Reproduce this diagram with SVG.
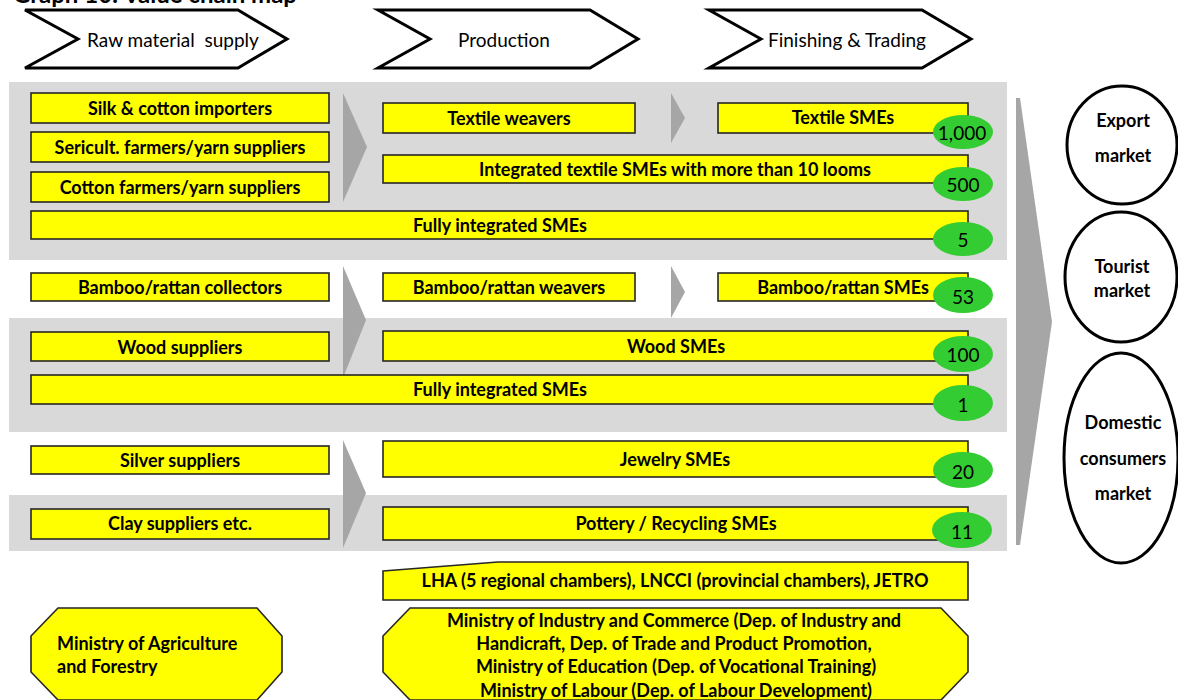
<svg xmlns="http://www.w3.org/2000/svg" width="1178" height="700" viewBox="0 0 1178 700">
<style>
text{font-family:Lato,"Liberation Sans",sans-serif;fill:#000}
.b{font-weight:bold;font-size:18px;text-anchor:middle;dominant-baseline:central}
.l{font-weight:bold;font-size:18px;dominant-baseline:central}
.h{font-size:19px;text-anchor:middle;dominant-baseline:central}
.n{font-size:19px;text-anchor:middle;dominant-baseline:central}
.y{fill:#FFFF00;stroke:#262626;stroke-width:1.6}
.g{fill:#33CC33}
.band{fill:#D9D9D9}
.arr{fill:#A6A6A6}
.chev{fill:#fff;stroke:#000;stroke-width:3;stroke-linejoin:miter}
.mk{fill:#fff;stroke:#000;stroke-width:3}
.m{font-weight:bold;font-size:18px;text-anchor:middle;dominant-baseline:central}
</style>
<text x="13" y="3" style="font-weight:bold;font-size:24px">Graph 10: Value chain map</text>
<g id="bands">
<rect class="band" x="9" y="82" width="998" height="178"/>
<rect class="band" x="9" y="318" width="998" height="114"/>
<rect class="band" x="9" y="495" width="998" height="56"/>
</g>
<g id="headers">
<g id="h-raw"><polygon class="chev" points="25,10 238,10 287,39 238,68 25,68 78,39"/><text class="h" x="173" y="39" xml:space="preserve">Raw material  supply</text></g>
<g id="h-prod"><polygon class="chev" points="378,10 590,10 638,39 590,68 378,68 430,39"/><text class="h" x="504" y="39">Production</text></g>
<g id="h-fin"><polygon class="chev" points="709,10 922,10 971,39 922,68 709,68 761,39"/><text class="h" x="847" y="39">Finishing &amp; Trading</text></g>
</g>
<g id="connectors">
<polygon class="arr" points="343,93 367,147 343,202"/>
<polygon class="arr" points="671,93 685,118 671,143"/>
<polygon class="arr" points="343,266 366,320 343,378"/>
<polygon class="arr" points="671,266 685,292 671,318"/>
<polygon class="arr" points="343,440 366,493 343,548"/>
<polygon class="arr" points="1016,98 1020,98 1052,322 1020,545 1016,545"/>
</g>
<g id="n-silk"><rect class="y" x="31" y="93" width="298" height="30"/><text class="b" x="180" y="108">Silk &amp; cotton importers</text></g>
<g id="n-seri"><rect class="y" x="31" y="132" width="298" height="30"/><text class="b" x="180" y="147">Sericult. farmers/yarn suppliers</text></g>
<g id="n-cotton"><rect class="y" x="31" y="172" width="298" height="30"/><text class="b" x="180" y="187">Cotton farmers/yarn suppliers</text></g>
<g id="n-textile-weavers"><rect class="y" x="383" y="103" width="252" height="30"/><text class="b" x="509" y="118">Textile weavers</text></g>
<g id="n-textile-smes"><rect class="y" x="718" y="103" width="250" height="30"/><text class="b" x="843" y="117">Textile SMEs</text><ellipse class="g" cx="963" cy="132" rx="30" ry="17"/><text class="n" x="962" y="132">1,000</text></g>
<g id="n-integrated-textile"><rect class="y" x="383" y="155" width="585" height="28"/><text class="b" x="675" y="169">Integrated textile SMEs with more than 10 looms</text><ellipse class="g" cx="963" cy="184" rx="30" ry="17"/><text class="n" x="963" y="184">500</text></g>
<g id="n-fully-textile"><rect class="y" x="31" y="211" width="937" height="28"/><text class="b" x="500" y="225">Fully integrated SMEs</text><ellipse class="g" cx="963" cy="239" rx="30" ry="17"/><text class="n" x="963" y="239">5</text></g>
<g id="n-bamboo-coll"><rect class="y" x="31" y="273" width="298" height="28"/><text class="b" x="180" y="287">Bamboo/rattan collectors</text></g>
<g id="n-bamboo-weav"><rect class="y" x="383" y="273" width="252" height="28"/><text class="b" x="509" y="287">Bamboo/rattan weavers</text></g>
<g id="n-bamboo-smes"><rect class="y" x="718" y="273" width="250" height="28"/><text class="b" x="843" y="287">Bamboo/rattan SMEs</text><ellipse class="g" cx="963" cy="295" rx="30" ry="18"/><text class="n" x="963" y="296">53</text></g>
<g id="n-wood-sup"><rect class="y" x="31" y="332" width="298" height="29"/><text class="b" x="180" y="347">Wood suppliers</text></g>
<g id="n-wood-smes"><rect class="y" x="383" y="331" width="585" height="30"/><text class="b" x="676" y="346">Wood SMEs</text><ellipse class="g" cx="963" cy="354" rx="30" ry="18"/><text class="n" x="963" y="354">100</text></g>
<g id="n-fully-wood"><rect class="y" x="31" y="375" width="937" height="29"/><text class="b" x="500" y="389">Fully integrated SMEs</text><ellipse class="g" cx="963" cy="403" rx="30" ry="18"/><text class="n" x="963" y="404">1</text></g>
<g id="n-silver"><rect class="y" x="31" y="446" width="298" height="28"/><text class="b" x="180" y="460">Silver suppliers</text></g>
<g id="n-jewelry"><rect class="y" x="383" y="441" width="585" height="36"/><text class="b" x="675" y="459">Jewelry SMEs</text><ellipse class="g" cx="963" cy="470" rx="30" ry="18"/><text class="n" x="963" y="471">20</text></g>
<g id="n-clay"><rect class="y" x="31" y="509" width="298" height="30"/><text class="b" x="180" y="523">Clay suppliers etc.</text></g>
<g id="n-pottery"><rect class="y" x="383" y="507" width="585" height="33"/><text class="b" x="676" y="523">Pottery / Recycling SMEs</text><ellipse class="g" cx="962" cy="530" rx="30" ry="18"/><text class="n" x="962" y="531">11</text></g>
<g id="n-export"><ellipse class="mk" cx="1122" cy="145" rx="55" ry="59"/><text class="m" x="1123" y="120">Export</text><text class="m" x="1123" y="155">market</text></g>
<g id="n-tourist"><ellipse class="mk" cx="1121" cy="277" rx="56" ry="65"/><text class="m" x="1122" y="266">Tourist</text><text class="m" x="1122" y="290">market</text></g>
<g id="n-domestic"><ellipse class="mk" cx="1121" cy="458" rx="57" ry="105"/><text class="m" x="1123" y="422">Domestic</text><text class="m" x="1123" y="458">consumers</text><text class="m" x="1123" y="493">market</text></g>
<g id="n-lha"><polygon class="y" points="383,571 498,562 968,562 968,600 383,600"/><text class="b" x="675" y="580">LHA (5 regional chambers), LNCCI (provincial chambers), JETRO</text></g>
<g id="n-maf"><polygon class="y" points="58,608 257,608 282,636 282,672 257,700 58,700 31,672 31,636"/><text class="l" x="57" y="643">Ministry of Agriculture</text><text class="l" x="57" y="666">and Forestry</text></g>
<g id="n-mic"><polygon class="y" points="410,608 941,608 968,636 968,672 941,700 410,700 383,672 383,636"/><text class="b" x="674" y="620">Ministry of Industry and Commerce (Dep. of Industry and</text><text class="b" x="674" y="643">Handicraft, Dep. of Trade and Product Promotion,</text><text class="b" x="676" y="666">Ministry of Education (Dep. of Vocational Training)</text><text class="b" x="676" y="690">Ministry of Labour (Dep. of Labour Development)</text></g>
</svg>
